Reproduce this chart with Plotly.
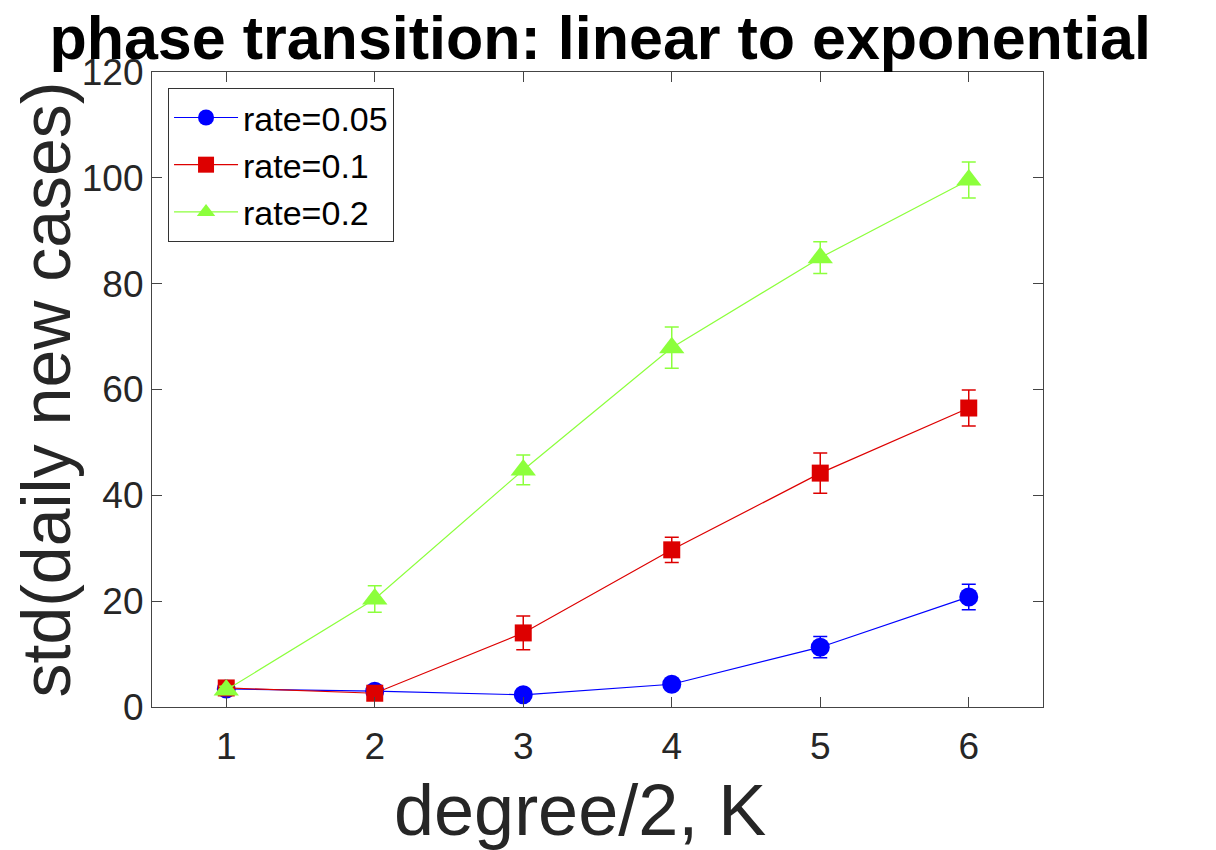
import plotly.graph_objects as go

# degree/2, K
k_vals = [1, 2, 3, 4, 5, 6]

# std of daily new cases, per rate, with error sizes
std_r005 = [3.4, 3.0, 2.3, 4.3, 11.3, 20.8]
err_r005 = [0.6, 0.7, 0.6, 0.8, 2.0, 2.4]

std_r01 = [3.6, 2.6, 14.0, 29.7, 44.2, 56.5]
err_r01 = [0.7, 0.7, 3.2, 2.4, 3.8, 3.4]

std_r02 = [3.2, 20.4, 44.8, 67.9, 84.9, 99.6]
err_r02 = [0.7, 2.5, 2.8, 3.9, 3.0, 3.4]

series = [
    ('rate=0.05', std_r005, err_r005, '#0000ff', 'circle', 19),
    ('rate=0.1', std_r01, err_r01, '#dd0000', 'square', 17),
    ('rate=0.2', std_r02, err_r02, '#8cff3c', 'triangle-up', 22),
]

fig = go.Figure()
for name, y, e, col, sym, sz in series:
    fig.add_trace(go.Scatter(
        x=k_vals, y=y, name=name, mode='lines+markers',
        line=dict(color=col, width=1.2),
        marker=dict(symbol=sym, size=sz, color=col),
        error_y=dict(type='data', array=e, visible=True, color=col,
                     thickness=1.5, width=7),
    ))

axis_common = dict(
    showline=True, linecolor='#444', linewidth=1.2, mirror='ticks',
    ticks='inside', ticklen=10, tickcolor='#444', showgrid=False,
    zeroline=False, tickfont=dict(size=37, color='#262626'),
)

# page body adds ~8px offset, margins compensate
fig.update_layout(
    width=1216, height=850,
    margin=dict(l=144, r=181, t=64, b=151),
    paper_bgcolor='white', plot_bgcolor='white',
    font=dict(family='Liberation Sans, Arial, sans-serif', color='#262626'),
    title=dict(text='<b>phase transition: linear to exponential</b>',
               x=0.487, xanchor='center', y=0.965, yanchor='middle',
               font=dict(size=61, color='black')),
    xaxis=dict(range=[0.5, 6.5], tickvals=k_vals, ticklabelstandoff=6,
               **axis_common),
    yaxis=dict(range=[0, 120], tickvals=[0, 20, 40, 60, 80, 100, 120],
               title=dict(text='std(daily new cases)', font=dict(size=68, color='#262626'),
                          standoff=8),
               **axis_common),
    legend=dict(x=0.018, y=0.975, xanchor='left', yanchor='top',
                bgcolor='white', bordercolor='#333', borderwidth=1,
                itemwidth=64,
                font=dict(size=34, color='black'), tracegroupgap=0),
    showlegend=True,
)

fig.add_annotation(text='degree/2, K', xref='paper', yref='paper',
                   x=0.48, y=-0.162, xanchor='center', yanchor='middle',
                   showarrow=False, font=dict(size=72, color='#262626'))

fig.write_html('out.html')
